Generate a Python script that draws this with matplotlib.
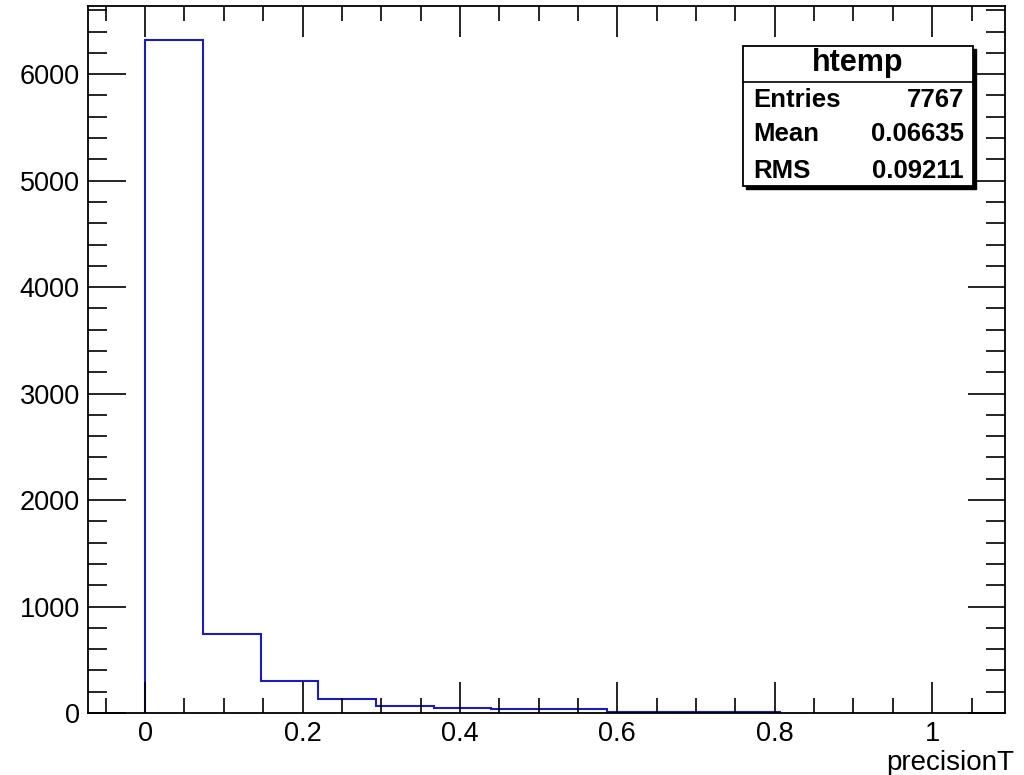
import numpy as np
import matplotlib.pyplot as plt
from matplotlib.ticker import MultipleLocator
from matplotlib.patches import Rectangle

plt.rcParams['font.family'] = ['Liberation Sans', 'DejaVu Sans']

# histogram data
bin_width = 1.1 / 15
counts = [6325, 745, 300, 131, 66, 50, 36, 34, 12, 10, 8]
edges = [i * bin_width for i in range(len(counts) + 1)]
stats_labels = ["Entries", "Mean", "RMS"]
stats_values = ["7767", "0.06635", "0.09211"]

fig = plt.figure(figsize=(10.24, 7.75), dpi=100)
ax = fig.add_axes([88 / 1024, 62 / 775, 917 / 1024, 707 / 775])

ax.stairs(counts, edges, baseline=0, color='#1c1cbe', linewidth=1.5)

ax.set_xlim(-0.0726, 1.0925)
ax.set_ylim(0, 6640)

ax.xaxis.set_major_locator(MultipleLocator(0.2))
ax.xaxis.set_minor_locator(MultipleLocator(0.05))
ax.yaxis.set_major_locator(MultipleLocator(1000))
ax.yaxis.set_minor_locator(MultipleLocator(200))
ax.set_xticks([0, 0.2, 0.4, 0.6, 0.8, 1.0])
ax.set_xticklabels(["0", "0.2", "0.4", "0.6", "0.8", "1"])

ax.tick_params(which='both', direction='in', top=True, right=True,
               labelsize=19.5, width=1.2, color='black')
ax.tick_params(axis='x', which='major', length=22, pad=6)
ax.tick_params(axis='x', which='minor', length=11)
ax.tick_params(axis='y', which='major', length=27, pad=6)
ax.tick_params(axis='y', which='minor', length=14)
for s in ax.spines.values():
    s.set_linewidth(1.3)

fig.text(1014 / 1024, 1 - 763 / 775, "precisionT", ha='right', va='center', fontsize=20)

# stats box
bx0, bx1, by0, by1 = 743 / 1024, 973 / 1024, 1 - 186 / 775, 1 - 46 / 775
sh = 3
fig.patches.append(Rectangle((bx0 + sh / 1024, by0 - sh / 775), bx1 - bx0, by1 - by0,
                             transform=fig.transFigure, facecolor='black', edgecolor='black', zorder=5))
fig.patches.append(Rectangle((bx0, by0), bx1 - bx0, by1 - by0, transform=fig.transFigure,
                             facecolor='white', edgecolor='black', linewidth=1.3, zorder=6))
divider_y = 1 - 82 / 775
fig.lines.append(plt.Line2D([bx0, bx1], [divider_y, divider_y], transform=fig.transFigure,
                            color='black', linewidth=1.2, zorder=7))
fig.text((bx0 + bx1) / 2, 1 - 63 / 775, "htemp", ha='center', va='center',
         fontsize=22, fontweight='bold', zorder=8)
row_y = [100, 134, 171]
for lab, val, yy in zip(stats_labels, stats_values, row_y):
    fig.text(753 / 1024, 1 - yy / 775, lab, ha='left', va='center', fontsize=18.5,
             fontweight='bold', zorder=8)
    fig.text(964 / 1024, 1 - yy / 775, val, ha='right', va='center', fontsize=18.5,
             fontweight='bold', zorder=8)

fig.savefig("out.png", dpi=100)
